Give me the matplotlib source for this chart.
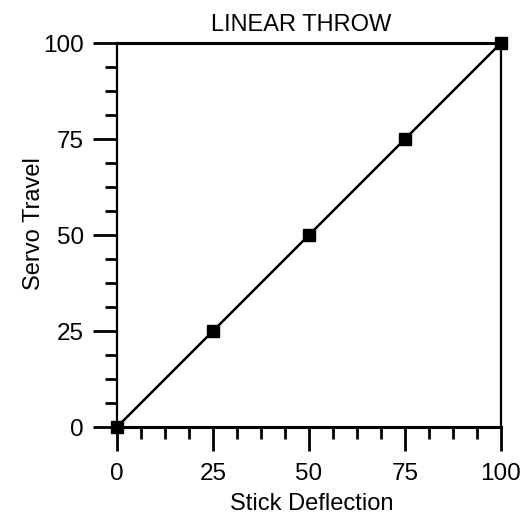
import matplotlib
matplotlib.use("Agg")
import matplotlib.pyplot as plt
from matplotlib.ticker import MultipleLocator

# Servo response to stick input
stick_deflection = [0, 25, 50, 75, 100]
servo_travel = [0, 25, 50, 75, 100]
tick_values = [0, 25, 50, 75, 100]
tick_labels = ["0", "25", "50", "75", "100"]

plt.rcParams["font.family"] = ["Liberation Sans", "DejaVu Sans"]

W, H = 522, 517
fig = plt.figure(figsize=(W / 100, H / 100), dpi=100)
ax = fig.add_axes([117 / W, (H - 427) / H, 384 / W, 384 / H])

ax.plot(stick_deflection, servo_travel, color="black", lw=1.8,
        marker="s", markersize=9.2, clip_on=False, zorder=5)

ax.set_xlim(0, 100)
ax.set_ylim(0, 100)
ax.set_xticks(tick_values)
ax.set_xticklabels(tick_labels)
ax.set_yticks(tick_values)
ax.set_yticklabels(tick_labels)
ax.xaxis.set_minor_locator(MultipleLocator(6.25))
ax.yaxis.set_minor_locator(MultipleLocator(6.25))

ax.tick_params(axis="both", which="major", direction="out", length=17.3,
               width=2.0, labelsize=17.5, color="black")
ax.tick_params(axis="both", which="minor", direction="out", length=8.6,
               width=2.0, color="black")
ax.tick_params(axis="x", which="major", pad=8.5)
ax.tick_params(axis="y", which="major", pad=6.5)

for side, lw in [("top", 2.2), ("bottom", 2.2), ("left", 1.6), ("right", 1.6)]:
    ax.spines[side].set_linewidth(lw)
    ax.spines[side].set_color("black")

fig.text(301.5 / W, (H - 31) / H, "LINEAR THROW", ha="center",
         va="baseline", fontsize=17)
fig.text(311.5 / W, (H - 510.5) / H, "Stick Deflection", ha="center",
         va="baseline", fontsize=17)
fig.text(34 / W, (H - 224) / H, "Servo Travel", ha="center",
         va="center", rotation=90, fontsize=17)

fig.savefig("out.png", dpi=100)
